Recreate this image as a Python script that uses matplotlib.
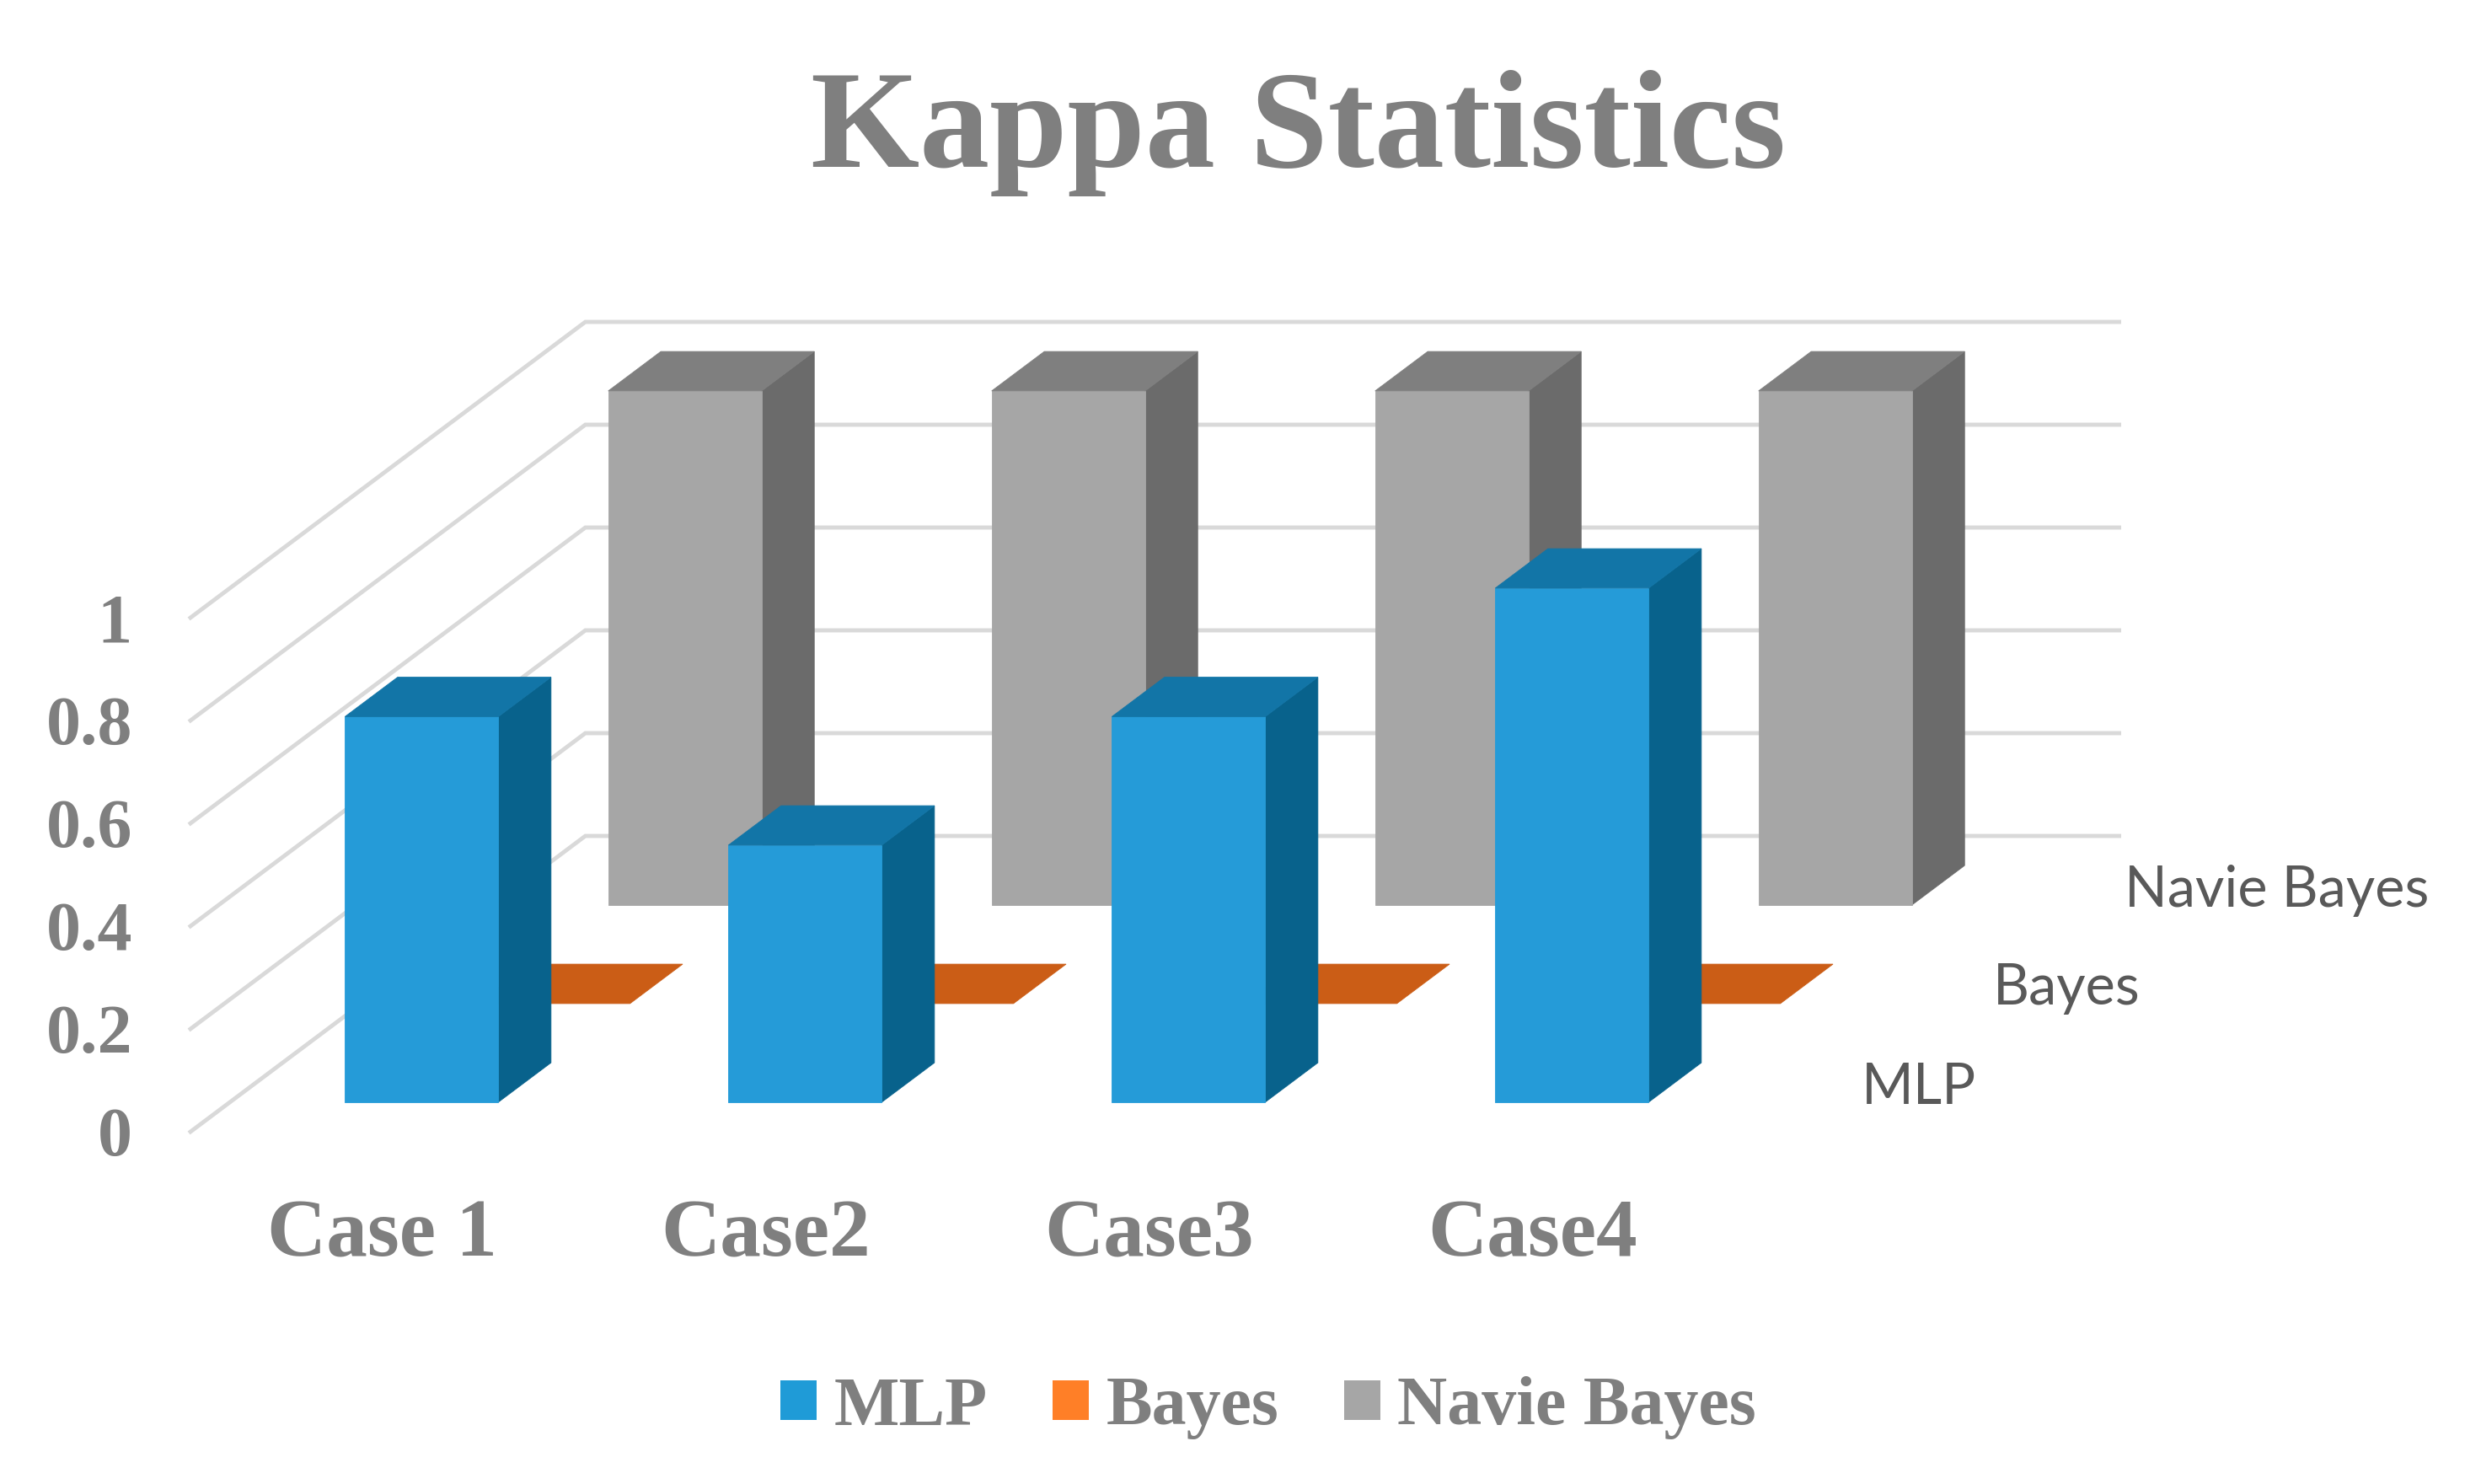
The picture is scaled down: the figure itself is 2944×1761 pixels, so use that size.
import matplotlib
matplotlib.use('Agg')
import matplotlib.pyplot as plt
from matplotlib.patches import Polygon, Patch

# ---------------- data ----------------
categories = ['Case 1', 'Case2', 'Case3', 'Case4']
series_names = ['MLP', 'Bayes', 'Navie Bayes']
mlp = [0.75, 0.5, 0.75, 1.0]
bayes = [0.0, 0.0, 0.0, 0.0]
navie_bayes = [1.0, 1.0, 1.0, 1.0]
yticks = [0, 0.2, 0.4, 0.6, 0.8, 1]
ytick_labels = ['0', '0.2', '0.4', '0.6', '0.8', '1']
title = 'Kappa Statistics'

# ---------------- style ----------------
FW, FH = 2944, 1761
TEXT_GREY = '#7f7f7f'
SERIES_LABEL = '#595959'
GRID = '#d9d9d9'
face_colors = {
    'MLP': dict(front='#259bd8', top='#1275a7', side='#08628c', legend='#1f9bd7'),
    'Bayes': dict(front='#e2701f', top='#cb5d16', side='#a84a10', legend='#ff7f27'),
    'Navie Bayes': dict(front='#a6a6a6', top='#7f7f7f', side='#6b6b6b', legend='#a6a6a6'),
}
SERIF = ['Liberation Serif', 'DejaVu Serif']

fig = plt.figure(figsize=(FW / 100, FH / 100), dpi=100)
ax = fig.add_axes([0, 0, 1, 1])
ax.set_xlim(0, FW)
ax.set_ylim(FH, 0)
ax.axis('off')

# oblique projection of (category, depth, value) into axes units
X0, Y0 = 226, 1343
CW = 455      # width of one category slot
RD = 117      # depth of one series row (vertical component)
K = 1.335     # horizontal shift per unit of vertical depth
VH = 610      # height of value 1.0


def P(c, s, v):
    return (X0 + c * CW + s * RD * K, Y0 - s * RD - v * VH)


ncat = len(categories)
nser = len(series_names)

# gridlines on left wall and back wall
for v in yticks:
    pts = [P(0, 0, v), P(0, nser, v), P(ncat, nser, v)]
    ax.plot([p[0] for p in pts], [p[1] for p in pts], color=GRID, lw=3.5,
            solid_joinstyle='miter', zorder=1)

values = {'MLP': mlp, 'Bayes': bayes, 'Navie Bayes': navie_bayes}
z = 2
for s in reversed(range(nser)):
    name = series_names[s]
    cols = face_colors[name]
    for i, v in enumerate(values[name]):
        c0, c1 = i + 0.3, i + 0.7
        s0, s1 = s + 0.3, s + 0.7
        faces = []
        if v > 0:
            faces.append(([P(c1, s0, 0), P(c1, s1, 0), P(c1, s1, v), P(c1, s0, v)], cols['side']))
            faces.append(([P(c0, s0, 0), P(c1, s0, 0), P(c1, s0, v), P(c0, s0, v)], cols['front']))
        faces.append(([P(c0, s0, v), P(c1, s0, v), P(c1, s1, v), P(c0, s1, v)], cols['top']))
        for pts, col in faces:
            ax.add_patch(Polygon(pts, closed=True, facecolor=col, edgecolor=col,
                                 lw=0.6, zorder=z))
            z += 1

# value axis labels
for v, lab in zip(yticks, ytick_labels):
    x, y = P(0, 0, v)
    ax.text(x - 69, y + 28, lab, ha='right', va='baseline', family=SERIF,
            weight='bold', fontsize=59, color=TEXT_GREY)

# category labels
for i, lab in enumerate(categories):
    x, y = P(i + 0.5, 0, 0)
    ax.text(x, y + 148, lab, ha='center', va='baseline', family=SERIF,
            weight='bold', fontsize=70, color=TEXT_GREY)

# series (depth) labels
for s, lab in enumerate(series_names):
    x, y = P(ncat, s + 0.5, 0)
    ax.text(x + 85, y + 25, lab, ha='left', va='baseline',
            family=['Lato', 'DejaVu Sans'], fontsize=48, color=SERIES_LABEL)

# title
ax.text(1540, 198, title, ha='center', va='baseline', family=SERIF,
        weight='bold', fontsize=119.5, color=TEXT_GREY)

# legend
handles = [Patch(facecolor=face_colors[n]['legend'], edgecolor='none') for n in series_names]
fig.legend(handles, series_names, loc='center', bbox_to_anchor=(1505 / FW, 1 - 1671 / FH),
           ncol=3, frameon=False,
           prop=dict(family=SERIF, weight='bold', size=59), labelcolor=TEXT_GREY,
           handlelength=0.52, handleheight=0.52, handletextpad=0.25,
           columnspacing=0.95, borderpad=0, borderaxespad=0)

fig.savefig('out.png', dpi=100, facecolor='white')
